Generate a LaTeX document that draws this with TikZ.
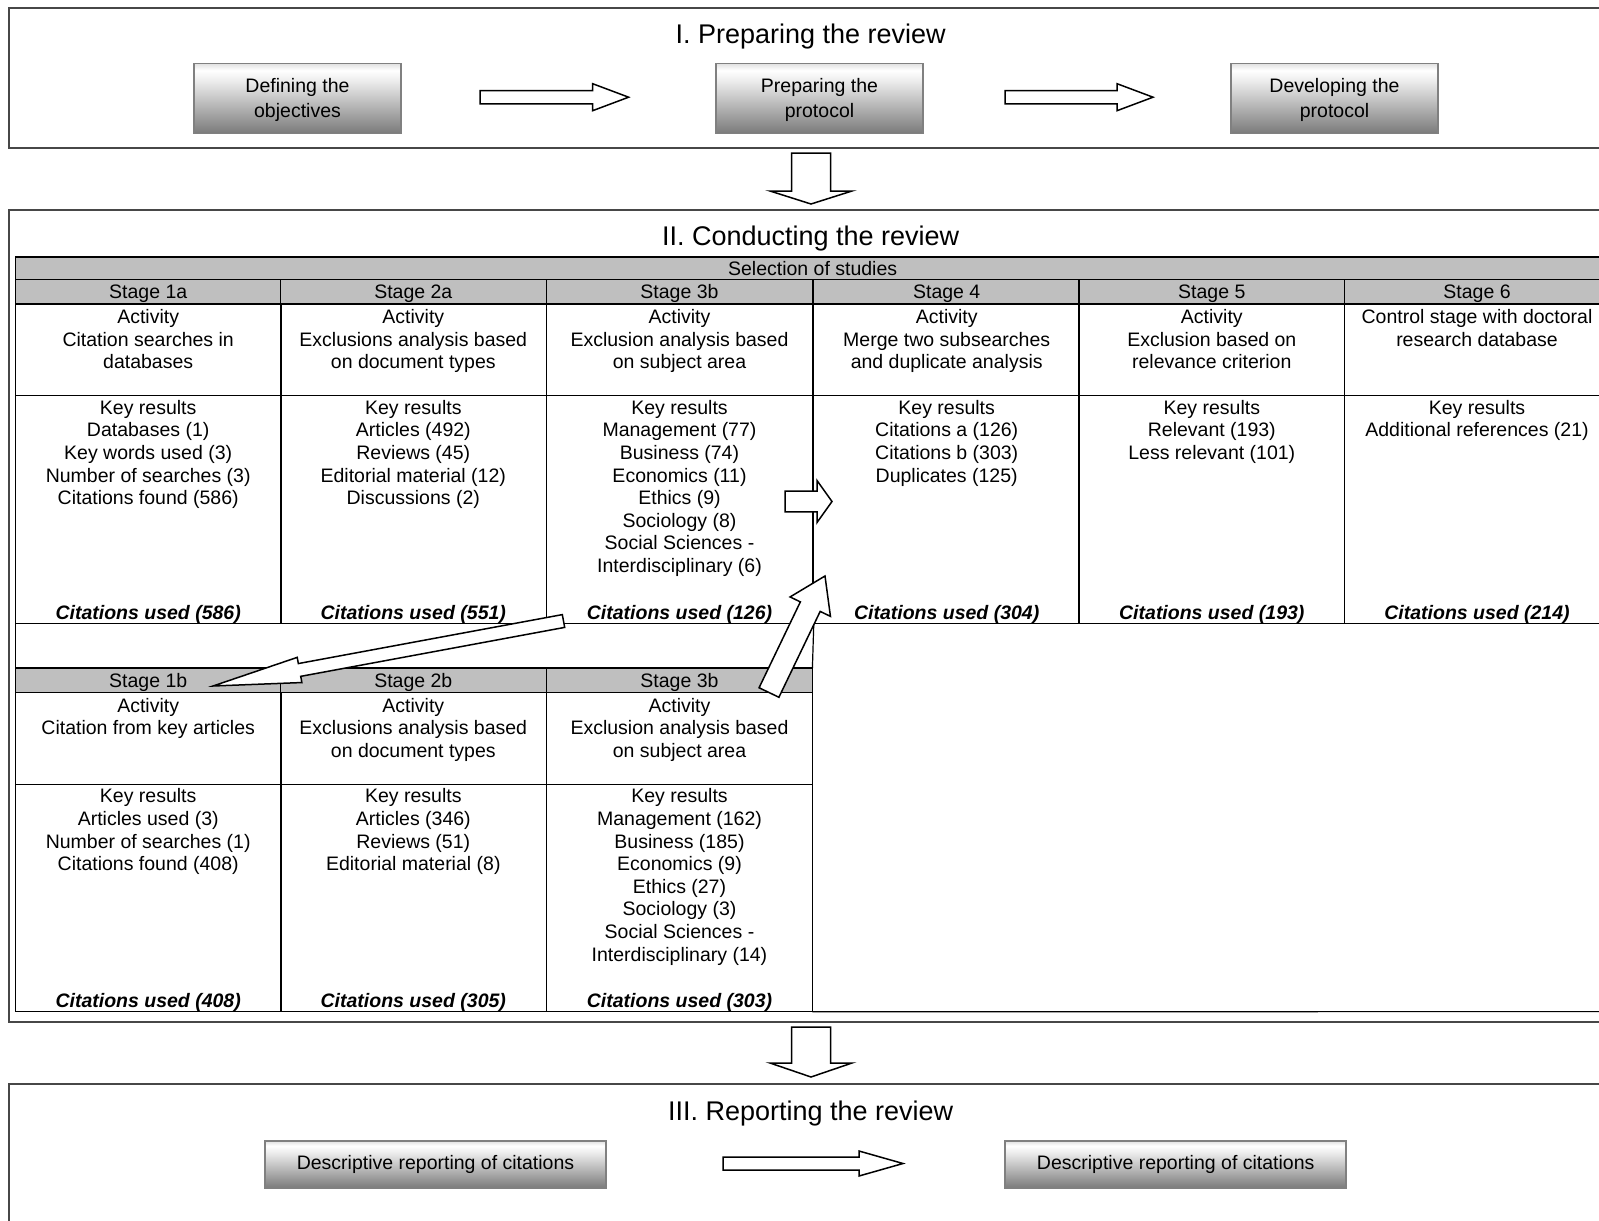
\documentclass[tikz,border=0pt]{standalone}
\usepackage{fontspec}
\setmainfont{Liberation Sans}
\usetikzlibrary{calc}

% light-to-dark vertical fill of the process boxes (0bp = bottom, 100bp = top)
\pgfdeclareverticalshading{stepshade}{100bp}{%
  color(0bp)=(black!52); color(25bp)=(black!52); color(62bp)=(black!8);
  color(70bp)=(white); color(75bp)=(black!12); color(100bp)=(black!12)}

\tikzset{
  panel/.style={draw=black!72, line width=2.2pt},
  paneltitle/.style={font=\fontsize{27}{32}\selectfont, inner sep=0pt, anchor=base},
  stepbox/.style={draw=black!50, line width=1.8pt, shade, shading=stepshade,
    align=center, font=\fontsize{19.5}{25}\selectfont, inner sep=0pt, outer sep=0pt},
  blockarrow/.style={draw=black, line width=1.5pt, fill=white, line join=miter},
  gridline/.style={draw=black, line width=1.2pt},
  hdrcell/.style={draw=black, line width=1.2pt, fill=black!25,
    minimum width=265.8pt, minimum height=24.5pt, inner sep=0pt, outer sep=0pt,
    font=\fontsize{19.5}{22.6}\selectfont, text height=16pt, text depth=2pt},
  actcell/.style={draw=black, line width=1.2pt, minimum width=265.8pt,
    minimum height=91.8pt, inner sep=0pt, outer sep=0pt},
  rescell/.style={draw=black, line width=1.2pt, minimum width=265.8pt,
    minimum height=227.4pt, inner sep=0pt, outer sep=0pt},
  celltext/.style={align=center, inner sep=0pt, anchor=north,
    font=\fontsize{19.5}{22.6}\selectfont},
  usedtext/.style={inner sep=0pt, anchor=base,
    font=\fontsize{19.5}{22.6}\selectfont\bfseries\itshape},
}

% one column of the selection table: id, left x, top y, header, activity, results, citations used
\newcommand\stagecolumn[7]{%
  \node[hdrcell, anchor=north west] (#1-h) at (#2,#3) {#4};
  \node[actcell, anchor=north west] (#1-a) at (#1-h.south west) {};
  \node[rescell, anchor=north west] (#1-r) at (#1-a.south west) {};
  \node[celltext] (#1-at) at ($(#1-a.north)+(0,3.6)$) {\strut #5};
  \node[celltext] (#1-rt) at ($(#1-r.north)+(0,2.6)$) {\strut #6};
  \node[usedtext] (#1-u) at ($(#1-r.south)+(0,-4)$) {#7};
}

% hollow block arrow: tail, tip, half shaft width, half head width, head length
\newcommand\hollowarrow[5]{%
  \pgfpointdiff{\pgfpointanchor{#1}{center}}{\pgfpointanchor{#2}{center}}%
  \pgfgetlastxy{\hadx}{\hady}%
  \pgfmathsetmacro\halen{veclen(\hadx,\hady)}%
  \pgfmathsetmacro\haang{atan2(\hady,\hadx)}%
  \pgfmathsetmacro\habase{\halen-#5}%
  \draw[blockarrow, shift={(#1)}, rotate=\haang]
    (0pt,#3pt) -- (\habase pt,#3pt) -- (\habase pt,#4pt) -- (\halen pt,0pt)
    -- (\habase pt,-#4pt) -- (\habase pt,-#3pt) -- (0pt,-#3pt) -- cycle;
}

\begin{document}
\begin{tikzpicture}[x=1pt, y=-1pt]
\useasboundingbox (0,0) rectangle (1599,1221);
\fill[white] (0,0) rectangle (1599,1221);
\clip (0,0) rectangle (1599,1221);

% ---------- I. Preparing the review ----------
\draw[panel] (9.2,8) rectangle (1613,148);
\node[paneltitle] (t1) at (810.7,43.2) {I. Preparing the review};
\node[stepbox, minimum width=207pt, minimum height=70pt, text depth=0pt] (def) at (297.5,98.4) {Defining the\\objectives};
\node[stepbox, minimum width=207pt, minimum height=70pt, text depth=0pt] (prep) at (819.5,98.4) {Preparing the\\protocol};
\node[stepbox, minimum width=207pt, minimum height=70pt, text depth=0pt] (dev) at (1334.5,98.4) {Developing the\\protocol};
\coordinate (a1s) at (480,97.2);  \coordinate (a1e) at (628.6,97.2);
\coordinate (a2s) at (1005,97.2); \coordinate (a2e) at (1153,97.2);
\hollowarrow{a1s}{a1e}{6.7}{13.5}{36}
\hollowarrow{a2s}{a2e}{6.7}{13.5}{36}

\coordinate (d1s) at (811,153); \coordinate (d1e) at (811,204);
\hollowarrow{d1s}{d1e}{19.5}{41}{13}

% ---------- II. Conducting the review ----------
\draw[panel] (9.2,210) rectangle (1613,1022);
\node[paneltitle] (t2) at (810.7,245) {II. Conducting the review};

\node[hdrcell, anchor=north west, minimum width=1594.7pt, minimum height=22.4pt,
      line width=1.6pt] (sel) at (15.3,257) {Selection of studies};

\stagecolumn{s1a}{15.3}{279.4}{Stage 1a}
  {Activity\\Citation searches in\\databases}
  {Key results\\Databases (1)\\Key words used (3)\\Number of searches (3)\\Citations found (586)}
  {Citations used (586)}
\stagecolumn{s2a}{280.4}{279.4}{Stage 2a}
  {Activity\\Exclusions analysis based\\on document types}
  {Key results\\Articles (492)\\Reviews (45)\\Editorial material (12)\\Discussions (2)}
  {Citations used (551)}
\stagecolumn{s3a}{546.6}{279.4}{Stage 3b}
  {Activity\\Exclusion analysis based\\on subject area}
  {Key results\\Management (77)\\Business (74)\\Economics (11)\\Ethics (9)\\Sociology (8)\\Social Sciences -\\Interdisciplinary (6)}
  {Citations used (126)}
\stagecolumn{s4}{813.8}{279.4}{Stage 4}
  {Activity\\Merge two subsearches\\and duplicate analysis}
  {Key results\\Citations a (126)\\Citations b (303)\\Duplicates (125)}
  {Citations used (304)}
\stagecolumn{s5}{1078.9}{279.4}{Stage 5}
  {Activity\\Exclusion based on\\relevance criterion}
  {Key results\\Relevant (193)\\Less relevant (101)}
  {Citations used (193)}
\stagecolumn{s6}{1344.1}{279.4}{Stage 6}
  {Control stage with doctoral\\research database}
  {Key results\\Additional references (21)}
  {Citations used (214)}

\stagecolumn{s1b}{15.3}{668}{Stage 1b}
  {Activity\\Citation from key articles}
  {Key results\\Articles used (3)\\Number of searches (1)\\Citations found (408)}
  {Citations used (408)}
\stagecolumn{s2b}{280.4}{668}{Stage 2b}
  {Activity\\Exclusions analysis based\\on document types}
  {Key results\\Articles (346)\\Reviews (51)\\Editorial material (8)}
  {Citations used (305)}
\stagecolumn{s3b}{546.6}{668}{Stage 3b}
  {Activity\\Exclusion analysis based\\on subject area}
  {Key results\\Management (162)\\Business (185)\\Economics (9)\\Ethics (27)\\Sociology (3)\\Social Sciences -\\Interdisciplinary (14)}
  {Citations used (303)}

% outline of the gap and the empty lower-right area
\draw[gridline] (s1a-r.south west) -- (s1b-h.north west);
\draw[gridline] (s4-r.south west) -- (s3b-h.north east);
\draw[gridline] (s3b-r.south east) -- (1620,1011.6);

% flow between stages
\coordinate (b1s) at (785,501.5); \coordinate (b1e) at (832,501.5);
\hollowarrow{b1s}{b1e}{10.3}{21}{15}
\coordinate (b2s) at (563.5,621); \coordinate (b2e) at (213,686);
\hollowarrow{b2s}{b2e}{6.5}{12.8}{88}
\coordinate (b3s) at (769,692.5); \coordinate (b3e) at (825,576);
\hollowarrow{b3s}{b3e}{11}{22.4}{34}

\coordinate (d2s) at (811,1027); \coordinate (d2e) at (811,1077);
\hollowarrow{d2s}{d2e}{19.5}{41}{14}

% ---------- III. Reporting the review ----------
\draw[panel] (9.2,1084) rectangle (1613,1240);
\node[paneltitle] (t3) at (810.7,1120) {III. Reporting the review};
\node[stepbox, minimum width=341pt, minimum height=47pt] (rep1) at (435.5,1164.5) {Descriptive reporting of citations};
\node[stepbox, minimum width=341pt, minimum height=47pt] (rep2) at (1175.7,1164.5) {Descriptive reporting of citations};
\coordinate (a3s) at (723,1163.5); \coordinate (a3e) at (903,1163.5);
\hollowarrow{a3s}{a3e}{6.5}{12.5}{44}
\end{tikzpicture}
\end{document}
